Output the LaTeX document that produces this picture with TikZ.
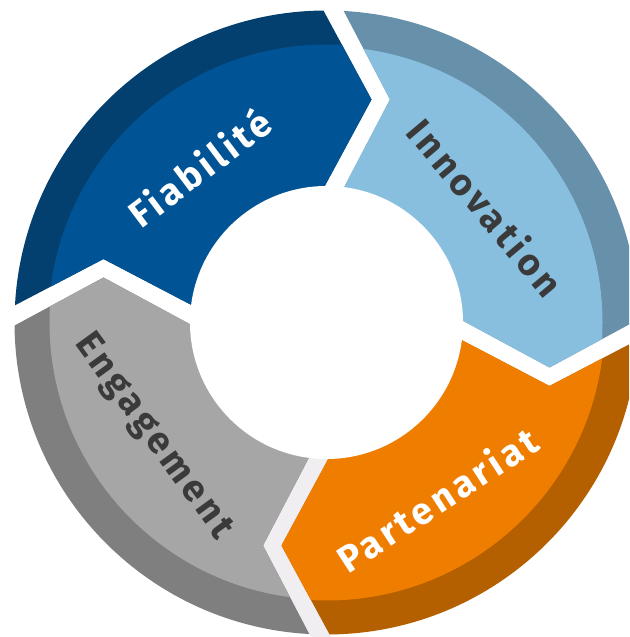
\documentclass[tikz,border=0pt]{standalone}
\usepackage{fontspec}
\newfontfamily\lblfont{Fira Sans}[LetterSpace=10]
\definecolor{fiaD}{HTML}{03406F}
\definecolor{fiaL}{HTML}{005394}
\definecolor{innD}{HTML}{6790AA}
\definecolor{innL}{HTML}{88BFDF}
\definecolor{parD}{HTML}{B45F00}
\definecolor{parL}{HTML}{EF7D00}
\definecolor{engD}{HTML}{7F7F7F}
\definecolor{engL}{HTML}{A6A6A6}
\definecolor{gapG}{HTML}{F0EEF0}
\definecolor{txtD}{HTML}{3A3A3A}
\tikzset{
  lbl/.style={font=\lblfont\bfseries\fontsize{37.5}{37.5}\selectfont, inner sep=0pt, anchor=center}
}
\def\segpath{(-110,4.4) -- (-136,18) -- (-223,63.5) -- (-310,18) -- (-336,4.5) -- (-460,4.5) -- (-460,460) -- (-16,460) -- (-16,336) -- (-2,310) -- (45,223) -- (-2,136) -- (-16,110) -- cycle}
\def\gappath{(-16,110) -- (-2,136) -- (45,223) -- (-2,310) -- (-16,336) -- (-16,460) -- (4.5,460) -- (4.5,336) -- (18,310) -- (63.5,223) -- (18,136) -- (4.5,110) -- cycle}
\newcommand{\cycseg}[4]{%
  \begin{scope}[shift={(326.5,314.5)}, rotate=#1]
    \begin{scope}\clip (0,0) circle [radius=312]; \fill[#2] \segpath; \end{scope}
    \begin{scope}\clip (0,0) circle [radius=#4]; \fill[#3] \segpath; \end{scope}
  \end{scope}}
\begin{document}
\begin{tikzpicture}[x=1pt,y=1pt]
\useasboundingbox (0,0) rectangle (629,637);
\clip (0,0) rectangle (629,637);
\fill[white] (0,0) rectangle (629,637);
% bottom gap shading
\begin{scope}[shift={(326.5,314.5)}, rotate=180]
  \clip (0,0) circle [radius=330];
  \fill[gapG] \gappath;
\end{scope}
\cycseg{0}{fiaD}{fiaL}{278}
\cycseg{-90}{innD}{innL}{276}
\cycseg{180}{parD}{parL}{278}
\cycseg{90}{engD}{engL}{277}
\fill[white] (326.5,314.5) circle [radius=136.5];
\node[lbl, text=white, rotate=37] (fia) at (199,470) {Fiabilité};
\node[lbl, text=txtD, rotate=-50] (inn) at (486,430) {Innovation};
\node[lbl, text=white, rotate=33] (par) at (437,138) {Partenariat};
\node[lbl, text=txtD, rotate=-54] (eng) at (153,200) {Engagement};
\end{tikzpicture}
\end{document}
